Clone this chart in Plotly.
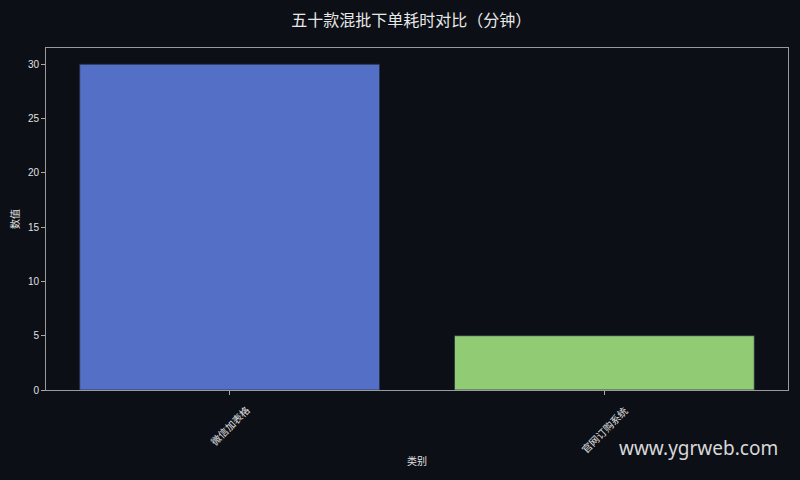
import plotly.graph_objects as go

categories = ["微信加表格", "官网订购系统"]
values = [30, 5]
colors = ["#5470c6", "#91cc75"]

bg = "#0c0f16"
font = "Noto Sans CJK SC"

fig = go.Figure()
fig.add_trace(go.Bar(
    x=[0, 1], y=values, width=0.8,
    marker=dict(color=colors, line=dict(color="rgba(40,50,70,0.8)", width=1)),
))

fig.update_layout(
    width=800, height=480,
    paper_bgcolor=bg, plot_bgcolor=bg,
    margin=dict(l=46, r=12, t=48, b=90),
    showlegend=False,
    title=dict(text="五十款混批下单耗时对比（分钟）", x=0.514, xanchor="center",
               y=0.958, yanchor="middle",
               font=dict(family=font, size=16, color="#e8e8e8")),
    font=dict(family=font, color="#e0e0e0"),
)
fig.update_xaxes(
    range=[-0.49, 1.49], tickvals=[0, 1], ticktext=["", ""],
    ticks="outside", ticklen=4, tickcolor="#aaaaaa",
    showgrid=False, zeroline=False,
    showline=True, linecolor="#9a9a9a", linewidth=1, mirror=True,
    title=dict(text="类别", font=dict(size=10, color="#e0e0e0", family=font), standoff=61),
)
fig.update_yaxes(
    range=[0, 31.5], tickvals=[0, 5, 10, 15, 20, 25, 30],
    ticks="outside", ticklen=4, tickcolor="#aaaaaa",
    tickfont=dict(size=10, color="#e0e0e0", family="Liberation Sans"),
    showgrid=False, zeroline=False,
    showline=True, linecolor="#9a9a9a", linewidth=1, mirror=True,
    title=dict(text="数值", font=dict(size=10, color="#e0e0e0", family=font), standoff=6),
)
for i, c in enumerate(categories):
    fig.add_annotation(
        text=c, x=i, xref="x", yref="paper", y=-0.029,
        xanchor="center", yanchor="top", textangle=-45, showarrow=False,
        font=dict(family=font, size=10, color="#e0e0e0"),
    )
fig.add_annotation(
    text="www.ygrweb.com", xref="paper", yref="paper",
    x=0.989, y=-0.17, xanchor="right", yanchor="middle", showarrow=False,
    font=dict(family="Noto Sans", size=19, color="#d8d8d8"),
)

fig.write_html(
    "out.html",
    config={"displayModeBar": False},
    post_script="document.body.style.margin='0';document.body.style.background='#0c0f16';",
)
